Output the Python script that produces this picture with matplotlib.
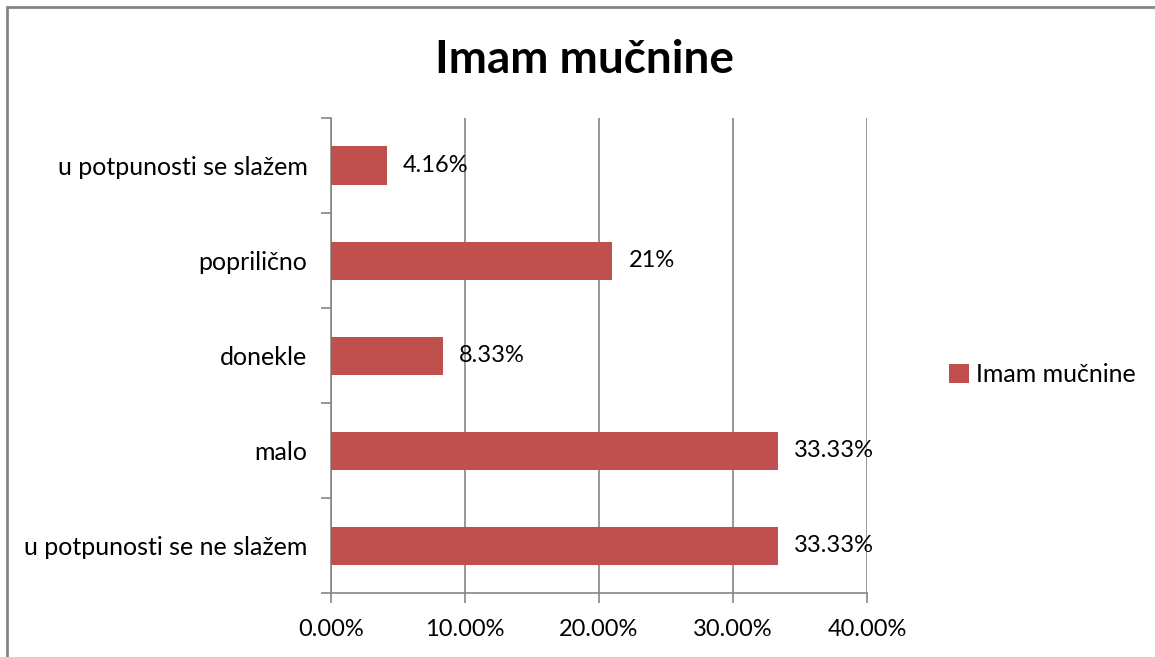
import matplotlib.pyplot as plt
from matplotlib.patches import Rectangle

plt.rcParams['font.family'] = ['Lato', 'DejaVu Sans']

categories = ['u potpunosti se ne slažem', 'malo', 'donekle', 'poprilično', 'u potpunosti se slažem']
values = [33.33, 33.33, 8.33, 21, 4.16]
value_labels = ['33.33%', '33.33%', '8.33%', '21%', '4.16%']
xticks = [0, 10, 20, 30, 40]
xtick_labels = ['0.00%', '10.00%', '20.00%', '30.00%', '40.00%']
series_name = 'Imam mučnine'

W, H = 1155, 657
fig = plt.figure(figsize=(W / 100, H / 100), dpi=100)
ax = fig.add_axes([331 / W, 1 - 593 / H, (867 - 331) / W, (593 - 118) / H])

bars = ax.barh(range(len(values)), values, height=0.4, color='#C0504D', label=series_name, zorder=3)
for b, lab in zip(bars, value_labels):
    ax.text(b.get_width() + 1.2, b.get_y() + b.get_height() / 2, lab,
            va='center', ha='left', fontsize=17, color='#000000', zorder=4)

ax.set_xlim(0, 40)
ax.set_ylim(-0.5, len(values) - 0.5)
ax.set_xticks(xticks)
ax.set_xticklabels(xtick_labels, fontsize=17)
ax.set_yticks(range(len(values)))
ax.set_yticklabels(categories, fontsize=18)
ax.tick_params(axis='y', length=0, pad=17)
ax.set_yticks([i - 0.5 for i in range(len(values) + 1)], minor=True)
ax.tick_params(axis='y', which='minor', length=7, color='#868686', width=1.2)
ax.tick_params(axis='x', length=7, color='#868686', width=1.2, pad=12)
ax.grid(axis='x', color='#868686', linewidth=1.2, zorder=0)

for s in ['top', 'right']:
    ax.spines[s].set_visible(False)
for s in ['left', 'bottom']:
    ax.spines[s].set_color('#868686')
    ax.spines[s].set_linewidth(1.2)

fig.text(585 / W, 1 - 60 / H, series_name, ha='center', va='center',
         fontsize=33, fontweight='bold')

fig.legend(handles=[bars], labels=[series_name], loc='center left',
           bbox_to_anchor=(926 / W, 1 - 375 / H), frameon=False, fontsize=18,
           handlelength=0.8, handleheight=0.8, handletextpad=0.3)

fig.patches.append(Rectangle((7 / W, -0.1), 1.2, 1 - 7 / H + 0.1, transform=fig.transFigure,
                             fill=False, edgecolor='#868686', linewidth=2))

fig.savefig('out.png', dpi=100)
